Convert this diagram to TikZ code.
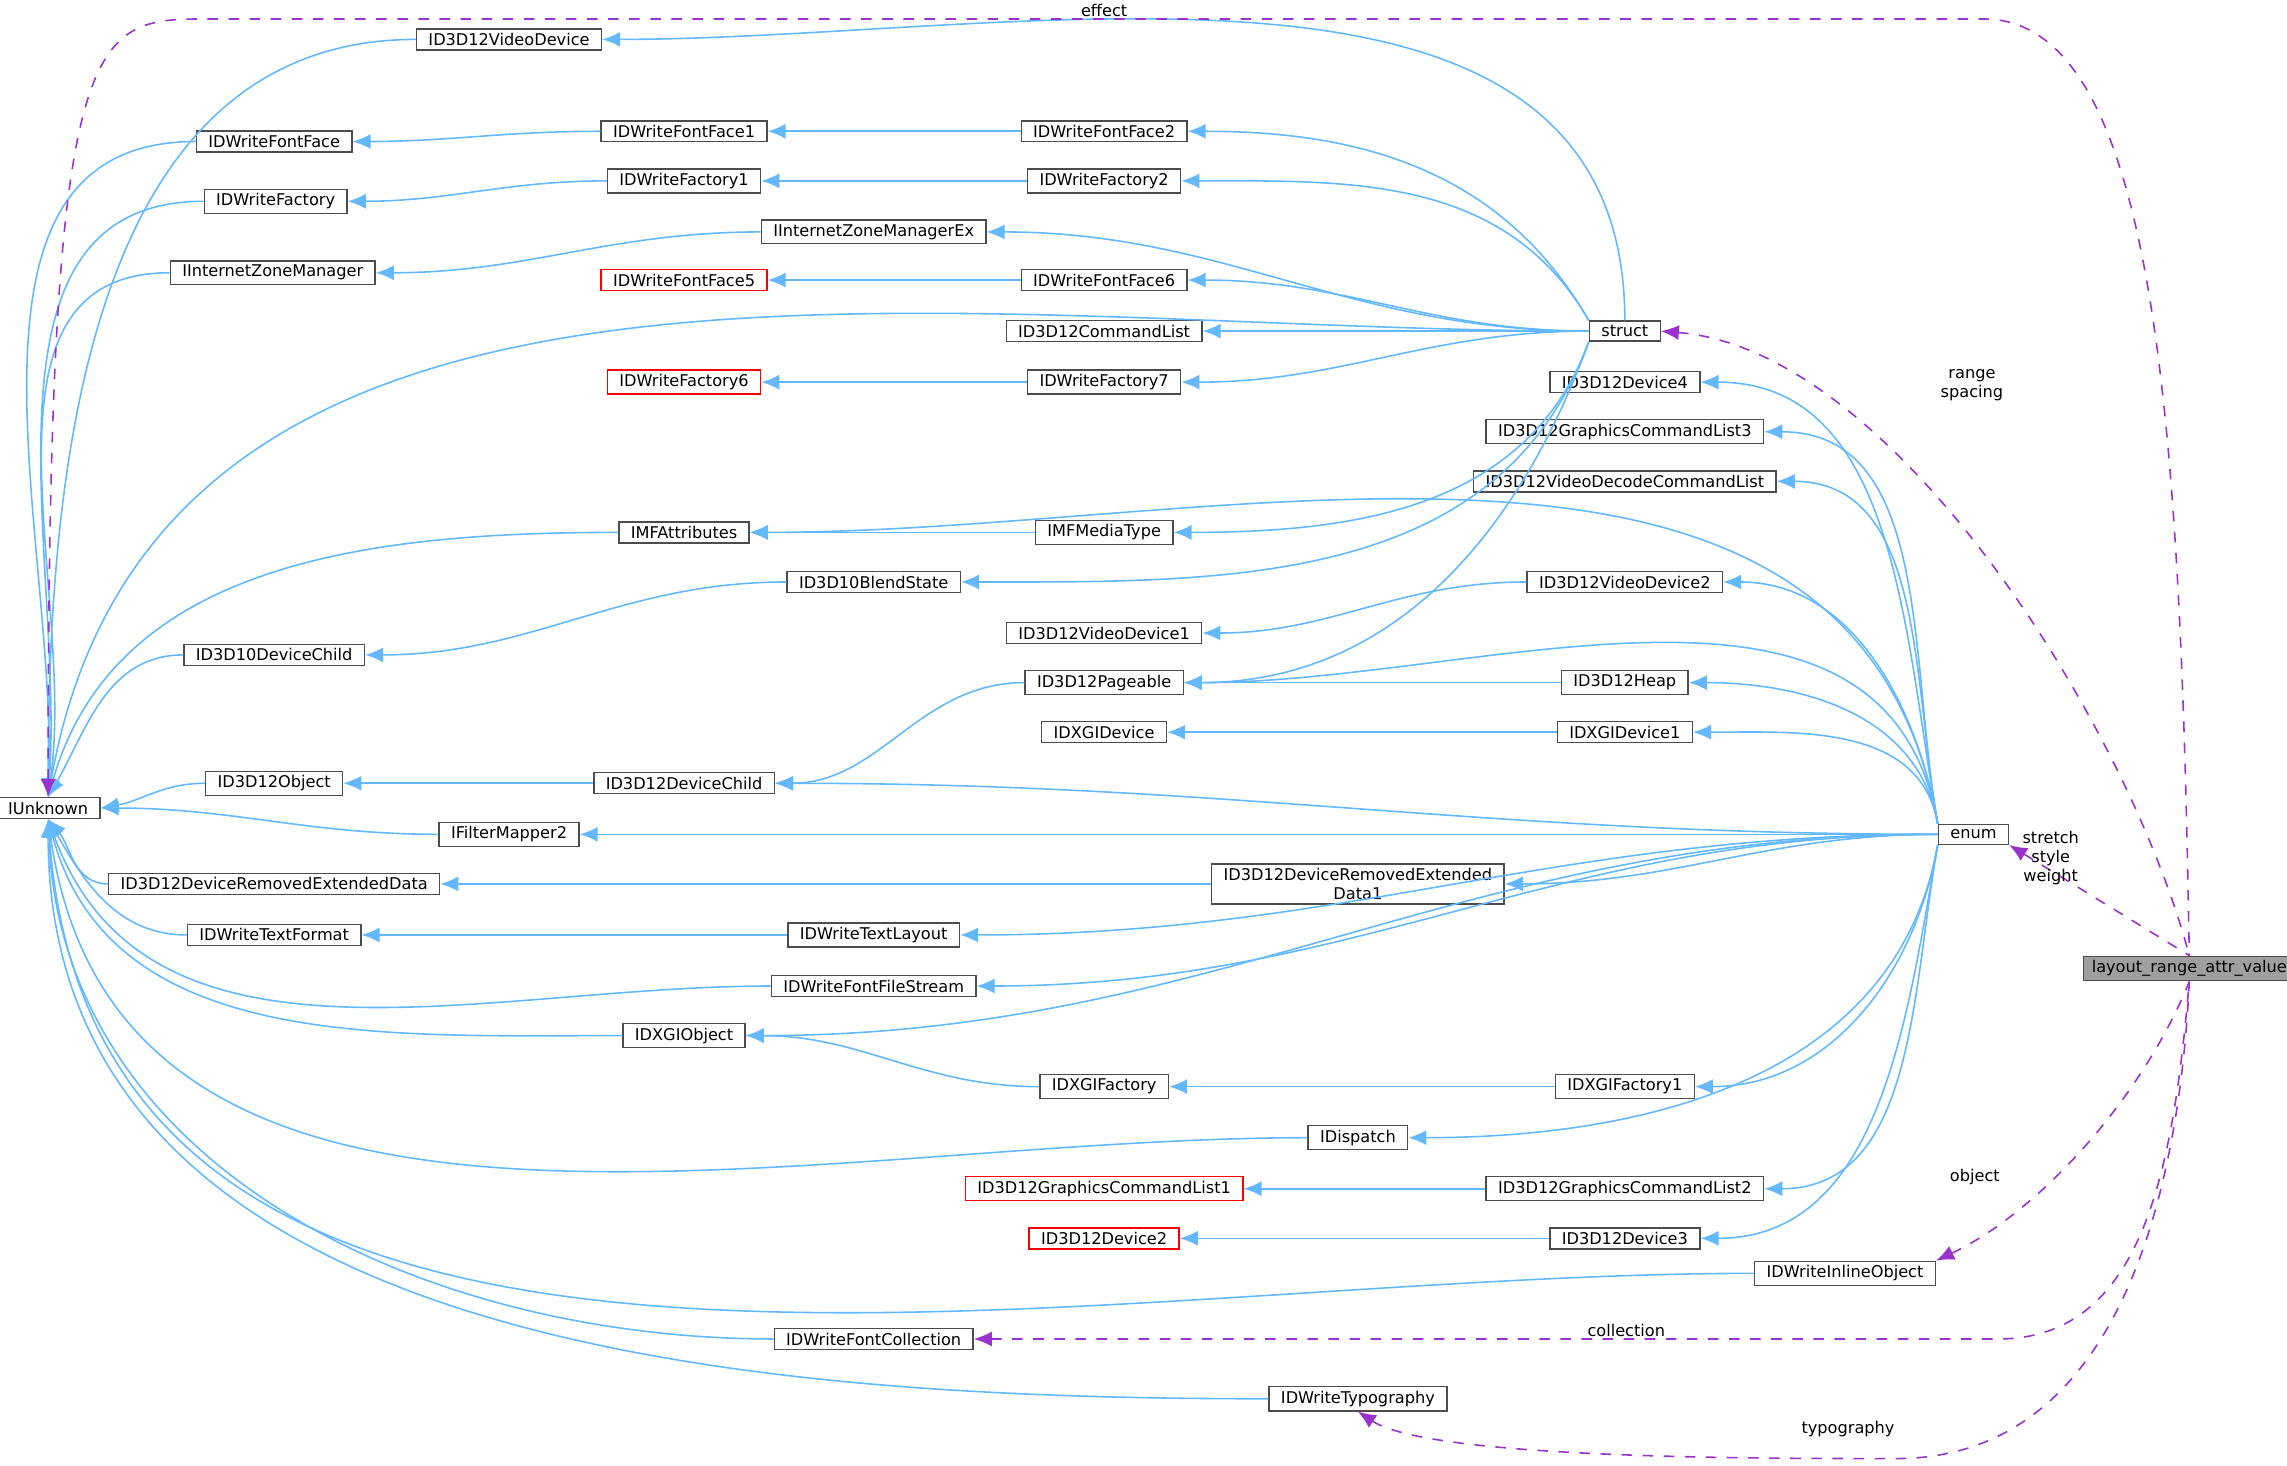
\documentclass[tikz,border=0pt]{standalone}
\usepackage{fontspec}
\setmainfont{DejaVu Sans}
\usetikzlibrary{arrows.meta}
\definecolor{ib}{HTML}{63B8FF}
\definecolor{dp}{HTML}{9A32CD}
\begin{document}
\begin{tikzpicture}[x=0.014585cm,y=-0.014585cm,
 box/.style={draw=gray!60!black,fill=white,font=\fontsize{4.6}{5.4}\selectfont,inner xsep=3.4pt,inner ysep=1.2pt,minimum height=0.2cm,align=center},
 red/.style={box,draw=red},
 inh/.style={draw=ib,line width=0.45pt,{Latex[length=1.8mm,width=1.5mm]}-},
 dep/.style={draw=dp,dashed,line width=0.45pt,{Latex[length=1.8mm,width=1.5mm]}-},
 lab/.style={font=\fontsize{4.6}{5.4}\selectfont,align=center}]
\useasboundingbox (0,0) rectangle (1568,1005);
\node[box] (IU) at (33,554) {IUnknown};
\node[box] (VD) at (349,27) {ID3D12VideoDevice};
\node[box] (FF) at (188,97) {IDWriteFontFace};
\node[box] (WF) at (189,138) {IDWriteFactory};
\node[box] (ZM) at (187,187) {IInternetZoneManager};
\node[box] (FF1) at (469,90) {IDWriteFontFace1};
\node[box] (WF1) at (469,124) {IDWriteFactory1};
\node[box] (ZMX) at (599,159) {IInternetZoneManagerEx};
\node[red] (FF5) at (469,192) {IDWriteFontFace5};
\node[red] (WF6) at (469,262) {IDWriteFactory6};
\node[box] (FF2) at (757,90) {IDWriteFontFace2};
\node[box] (WF2) at (757,124) {IDWriteFactory2};
\node[box] (FF6) at (757,192) {IDWriteFontFace6};
\node[box] (CL) at (757,227) {ID3D12CommandList};
\node[box] (WF7) at (757,262) {IDWriteFactory7};
\node[box] (ST) at (1114,227) {struct};
\node[box] (D4) at (1114,262) {ID3D12Device4};
\node[box] (G3) at (1114,296) {ID3D12GraphicsCommandList3};
\node[box] (VDC) at (1114,330) {ID3D12VideoDecodeCommandList};
\node[box] (MA) at (469,365) {IMFAttributes};
\node[box] (MT) at (757,365) {IMFMediaType};
\node[box] (BS) at (599,399) {ID3D10BlendState};
\node[box] (VD2) at (1114,399) {ID3D12VideoDevice2};
\node[box] (VD1) at (757,434) {ID3D12VideoDevice1};
\node[box] (DC10) at (188,449) {ID3D10DeviceChild};
\node[box] (PG) at (757,468) {ID3D12Pageable};
\node[box] (HP) at (1114,468) {ID3D12Heap};
\node[box] (XD) at (757,502) {IDXGIDevice};
\node[box] (XD1) at (1114,502) {IDXGIDevice1};
\node[box] (OB) at (188,537) {ID3D12Object};
\node[box] (DC) at (469,537) {ID3D12DeviceChild};
\node[box] (FM) at (349,572) {IFilterMapper2};
\node[box] (EN) at (1353,572) {enum};
\node[box] (DR) at (188,606) {ID3D12DeviceRemovedExtendedData};
\node[box] (DR1) at (931,606) {ID3D12DeviceRemovedExtended\\Data1};
\node[box] (TF) at (188,641) {IDWriteTextFormat};
\node[box] (TL) at (599,641) {IDWriteTextLayout};
\node[box] (FS) at (599,676) {IDWriteFontFileStream};
\node[box] (XO) at (469,710) {IDXGIObject};
\node[box] (XF) at (757,745) {IDXGIFactory};
\node[box] (XF1) at (1114,745) {IDXGIFactory1};
\node[box] (DI) at (931,780) {IDispatch};
\node[red] (G1) at (757,815) {ID3D12GraphicsCommandList1};
\node[box] (G2) at (1114,815) {ID3D12GraphicsCommandList2};
\node[red] (D2) at (757,849) {ID3D12Device2};
\node[box] (D3) at (1114,849) {ID3D12Device3};
\node[box] (IO) at (1265,873) {IDWriteInlineObject};
\node[box] (FC) at (599,918) {IDWriteFontCollection};
\node[box] (TY) at (931,959) {IDWriteTypography};
\node[box,fill=gray!75,inner xsep=2.4pt] (LR) at (1501,664) {layout\_range\_attr\_value};
% edges to IUnknown
\foreach \n/\o in {VD/90,FF/88,WF/86,ZM/82,ST/80,MA/74,DC10/60}
 \draw[inh] (IU.north) to[out=\o,in=180] (\n.west);
\draw[inh] (IU.east) to[out=10,in=180] (OB.west);
\draw[inh] (IU.east) to[out=0,in=180] (FM.west);
\foreach \n/\o in {DR/-50,TF/-60,FS/-70,XO/-75,DI/-82,IO/-86,FC/-88,TY/-90}
 \draw[inh] (IU.south) to[out=\o,in=180] (\n.west);
% chains
\foreach \a/\b in {FF/FF1,WF/WF1,ZM/ZMX,FF1/FF2,WF1/WF2,FF5/FF6,WF6/WF7,MA/MT,DC10/BS,VD1/VD2,DC/PG,PG/HP,XD/XD1,OB/DC,DR/DR1,TF/TL,XO/XF,XF/XF1,G1/G2,D2/D3}
 \draw[inh] (\a.east) to[out=0,in=180] (\b.west);
% struct
\draw[inh] (VD.east) to[out=0,in=90] (ST.north);
\foreach \n in {FF2,WF2}
 \draw[inh] (\n.east) to[out=0,in=120] (ST.north west);
\foreach \n in {ZMX,FF6,CL,WF7}
 \draw[inh] (\n.east) to[out=0,in=180] (ST.west);
\foreach \n in {MT,BS,PG}
 \draw[inh] (\n.east) to[out=0,in=250] (ST.south west);
% enum
\foreach \n in {D4,G3,VDC,MA,VD2,PG,HP,XD1}
 \draw[inh] (\n.east) to[out=0,in=100] (EN.north west);
\foreach \n in {DC,FM,DR1,TL,FS,XO}
 \draw[inh] (\n.east) to[out=0,in=180] (EN.west);
\foreach \n in {XF1,DI,G2,D3}
 \draw[inh] (\n.east) to[out=0,in=-100] (EN.south west);
% dependencies
\draw[dep] (IU.north) .. controls (33,20) and (60,13) .. (140,13) -- (1360,13) .. controls (1480,13) and (1495,300) .. (LR.north);
\node[lab] at (757,7) {effect};
\draw[dep] (ST.east) .. controls (1300,240) and (1460,500) .. (LR.north);
\node[lab] at (1352,264) {range\\spacing};
\draw[dep] (EN.south east) -- (LR.north);
\node[lab] at (1406,588) {stretch\\style\\weight};
\draw[dep] (IO.north east) .. controls (1400,830) and (1470,750) .. (LR.south);
\node[lab] at (1354,807) {object};
\draw[dep] (FC.east) -- (1370,918) .. controls (1470,918) and (1490,800) .. (LR.south);
\node[lab] at (1115,912) {collection};
\draw[dep] (TY.south) .. controls (980,1000) and (1200,1000) .. (1300,1000) .. controls (1460,1000) and (1495,800) .. (LR.south);
\node[lab] at (1267,980) {typography};
\end{tikzpicture}
\end{document}
